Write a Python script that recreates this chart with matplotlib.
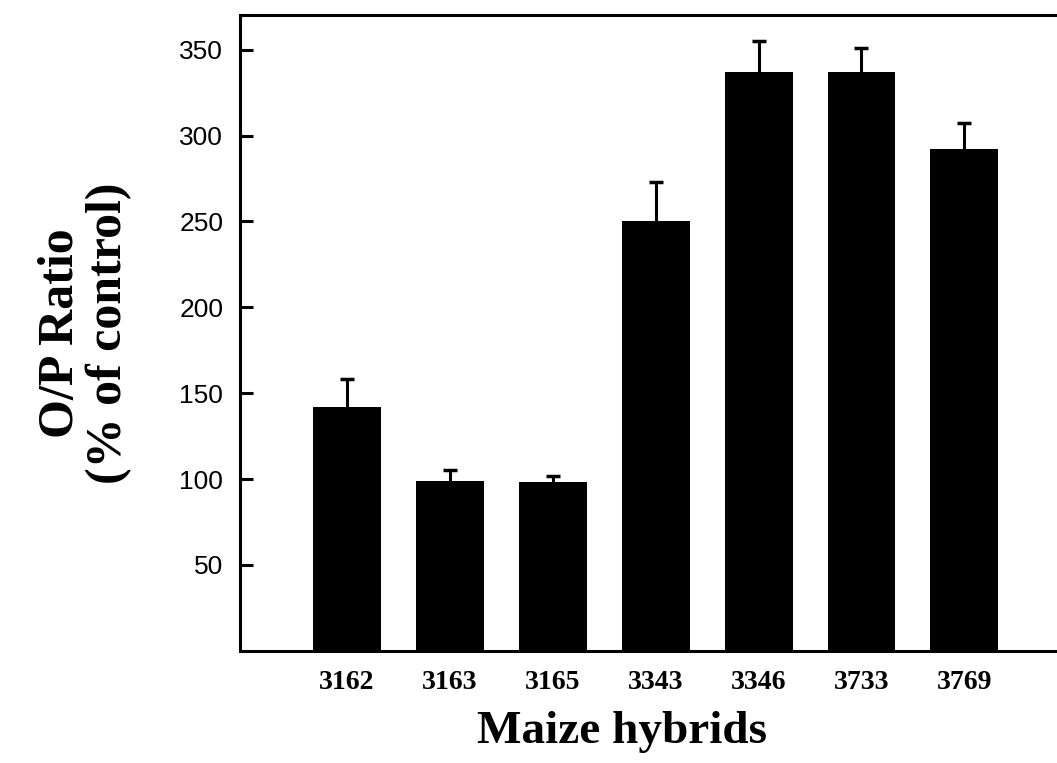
import matplotlib.pyplot as plt

# hybrid names and O/P ratio (% of control)
hybrids = ['3162', '3163', '3165', '3343', '3346', '3733', '3769']
ratio = [142, 99, 98, 250, 337, 337, 292]
err = [16, 6, 4, 23, 18, 14, 15]
yticks = [50, 100, 150, 200, 250, 300, 350]

fig = plt.figure(figsize=(10.57, 7.63), dpi=100)
ax = fig.add_axes([0.227, 0.147, 0.773, 0.833])

x = list(range(len(hybrids)))
bars = ax.bar(x, ratio, width=0.66, color='black',
              yerr=[[0] * len(err), err], capsize=5,
              error_kw=dict(ecolor='black', elinewidth=2.2, capthick=2.5))
# only the upper cap is drawn
bars.errorbar.lines[1][0].set_visible(False)

ax.set_xlim(-1.04, 6.9)
ax.set_ylim(0, 370)
ax.set_yticks(yticks)
ax.set_yticklabels([str(t) for t in yticks], family='Liberation Sans', fontsize=19)
ax.tick_params(axis='y', direction='in', length=9.5, width=2.2, pad=12)
ax.set_xticks(x)
ax.set_xticklabels(hybrids, family='Liberation Serif', fontweight='bold', fontsize=20)
ax.tick_params(axis='x', length=0, pad=14)

for side in ['left', 'top', 'bottom']:
    ax.spines[side].set_linewidth(2.2)
ax.spines['right'].set_visible(False)

ax.set_xlabel('Maize hybrids', family='Liberation Serif', fontweight='bold',
              fontsize=34)
ax.xaxis.set_label_coords(0.468, -0.095)
ax.set_ylabel('O/P Ratio\n(% of control)', family='Liberation Serif',
              fontweight='bold', fontsize=36, labelpad=34, linespacing=1.05)

plt.savefig('out.png', dpi=100)
